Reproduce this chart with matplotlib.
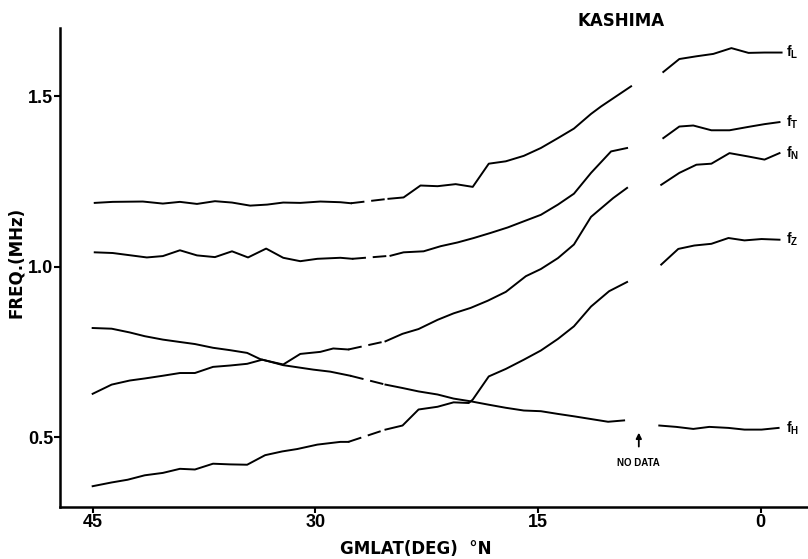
import matplotlib
matplotlib.use('Agg')
import matplotlib.pyplot as plt
import numpy as np

plt.rcParams['font.family'] = ['Liberation Sans', 'DejaVu Sans']
plt.rcParams['font.weight'] = 'bold'
plt.rcParams['mathtext.fontset'] = 'custom'
plt.rcParams['mathtext.rm'] = 'Liberation Sans'
plt.rcParams['mathtext.bf'] = 'Liberation Sans:bold'

# geomagnetic latitude (deg N) and frequency (MHz) along the pass
latL = [44.86, 43.65, 41.62, 40.27, 39.12, 37.97, 36.76, 35.61, 34.39, 33.24, 32.16, 31.01, 29.66, 28.31, 27.6,
        25.07, 24.05, 22.91, 21.76, 20.54, 19.39, 18.31, 17.16, 15.95, 14.80, 13.65, 12.57, 11.42, 10.74, 8.72,
        6.55, 5.47, 4.32, 3.18, 1.96, 0.81, -0.27, -1.42]
fL = [1.187, 1.190, 1.191, 1.185, 1.190, 1.184, 1.192, 1.188, 1.179, 1.182, 1.188, 1.187, 1.191, 1.189, 1.186,
      1.199, 1.203, 1.238, 1.236, 1.242, 1.234, 1.302, 1.309, 1.325, 1.348, 1.377, 1.405, 1.448, 1.470, 1.529,
      1.571, 1.609, 1.617, 1.624, 1.641, 1.627, 1.628, 1.628]

latT = [44.86, 43.65, 41.35, 40.27, 39.12, 37.97, 36.76, 35.61, 34.53, 33.31, 32.16, 31.01, 29.86, 28.31, 27.5,
        24.93, 24.05, 22.70, 21.55, 20.41, 19.32, 18.18, 17.03, 15.95, 14.80, 13.65, 12.57, 11.42, 10.07, 8.99,
        6.55, 5.47, 4.53, 3.31, 2.09, 0.81, -0.27, -1.28]
fT = [1.042, 1.040, 1.027, 1.031, 1.048, 1.033, 1.028, 1.045, 1.027, 1.053, 1.026, 1.016, 1.023, 1.026, 1.023,
      1.032, 1.042, 1.045, 1.060, 1.071, 1.084, 1.099, 1.115, 1.133, 1.152, 1.182, 1.214, 1.275, 1.338, 1.348,
      1.377, 1.411, 1.414, 1.400, 1.400, 1.410, 1.418, 1.424]

latN = [45.0, 43.72, 42.5, 41.49, 40.27, 39.12, 38.11, 36.89, 35.74, 34.59, 33.58, 32.16, 31.01, 29.66, 28.79, 27.77,
        25.27, 24.12, 23.04, 21.76, 20.68, 19.53, 18.38, 17.16, 15.81, 14.80, 13.65, 12.57, 11.42, 9.93, 8.99,
        6.69, 5.47, 4.32, 3.31, 2.09, 0.81, -0.27, -1.28]
fN = [0.627, 0.654, 0.666, 0.672, 0.680, 0.688, 0.688, 0.706, 0.710, 0.715, 0.727, 0.713, 0.744, 0.750, 0.760, 0.757,
      0.781, 0.803, 0.817, 0.844, 0.863, 0.879, 0.900, 0.926, 0.972, 0.993, 1.025, 1.065, 1.146, 1.201, 1.231,
      1.240, 1.275, 1.299, 1.302, 1.333, 1.323, 1.314, 1.333]

latZ = [45.0, 43.72, 42.64, 41.49, 40.27, 39.12, 38.11, 36.89, 35.74, 34.59, 33.38, 32.23, 31.22, 29.86, 28.31, 27.77,
        25.27, 24.12, 23.04, 21.76, 20.68, 19.66, 19.39, 18.31, 17.16, 15.95, 14.80, 13.65, 12.57, 11.42, 10.20, 8.99,
        6.69, 5.54, 4.46, 3.31, 2.16, 1.08, -0.07, -1.28]
fZ = [0.356, 0.367, 0.375, 0.388, 0.395, 0.407, 0.405, 0.422, 0.420, 0.419, 0.447, 0.458, 0.465, 0.478, 0.486, 0.486,
      0.522, 0.534, 0.581, 0.589, 0.602, 0.600, 0.610, 0.678, 0.700, 0.727, 0.754, 0.788, 0.825, 0.883, 0.928, 0.955,
      1.006, 1.052, 1.062, 1.067, 1.084, 1.077, 1.081, 1.079]

latH = [45.0, 43.72, 42.5, 41.49, 40.27, 39.12, 38.11, 36.89, 35.74, 34.59, 33.72, 32.16, 30.14, 28.99, 27.64,
        25.27, 24.12, 23.04, 21.76, 20.68, 19.53, 18.31, 17.16, 15.95, 14.80, 13.65, 12.57, 11.42, 10.27, 9.19,
        6.82, 5.68, 4.53, 3.45, 2.16, 1.08, -0.07, -1.22]
fH = [0.820, 0.818, 0.807, 0.796, 0.786, 0.779, 0.773, 0.762, 0.755, 0.747, 0.729, 0.711, 0.698, 0.692, 0.680,
      0.654, 0.644, 0.634, 0.625, 0.613, 0.605, 0.595, 0.586, 0.578, 0.576, 0.568, 0.561, 0.553, 0.545, 0.549,
      0.534, 0.530, 0.524, 0.530, 0.527, 0.522, 0.522, 0.527]

curves = [(latL, fL, r'$\mathbf{f_L}$'), (latT, fT, r'$\mathbf{f_T}$'), (latN, fN, r'$\mathbf{f_N}$'),
          (latZ, fZ, r'$\mathbf{f_Z}$'), (latH, fH, r'$\mathbf{f_H}$')]

fig = plt.figure(figsize=(8.08, 5.59), dpi=100)
ax = fig.add_axes([60 / 808, 52 / 559, 748 / 808, 479 / 559])

for lat, f, name in curves:
    lat = np.array(lat)
    f = np.array(f)
    north = lat > 26.5
    mid = (lat < 26.5) & (lat > 7.5)
    south = lat < 7.5
    ax.plot(lat[north], f[north], color='black', lw=1.4)
    # interpolated stretch drawn dashed
    ax.plot([lat[north][-1], lat[mid][0]], [f[north][-1], f[mid][0]], color='black', lw=1.4,
            linestyle=(0, (7, 3.5)))
    ax.plot(lat[mid], f[mid], color='black', lw=1.4)
    ax.plot(lat[south], f[south], color='black', lw=1.4)
    ax.text(-1.75, f[-1], name, fontsize=10, ha='left', va='center')

ax.annotate('NO DATA', xy=(8.2, 0.513), xytext=(8.2, 0.425), fontsize=7, fontweight='bold',
            ha='center', va='center',
            arrowprops=dict(arrowstyle='-|>', color='black', lw=1.3, shrinkA=6, shrinkB=0,
                            mutation_scale=8))

ax.text(9.4, 1.72, 'KASHIMA', fontsize=12, fontweight='bold', ha='center', va='center',
        family='DejaVu Sans', clip_on=False)

ax.set_xlim(47.2, -3.2)
ax.set_ylim(0.295, 1.70)
ax.set_xticks([45, 30, 15, 0])
ax.set_yticks([0.5, 1.0, 1.5])
ax.set_yticklabels(['0.5', '1.0', '1.5'])
ax.tick_params(labelsize=13, length=4, width=1.5, direction='out', pad=1)
for lab in ax.get_xticklabels() + ax.get_yticklabels():
    lab.set_fontweight('bold')

ax.spines['top'].set_visible(False)
ax.spines['right'].set_visible(False)
ax.spines['left'].set_linewidth(1.8)
ax.spines['bottom'].set_linewidth(1.8)

ax.set_xlabel('GMLAT(DEG)  \u00b0N', fontsize=12, fontweight='bold', family='DejaVu Sans')
ax.xaxis.set_label_coords(356 / 748, -0.068)
ax.set_ylabel('FREQ.(MHz)', fontsize=12, fontweight='bold', family='DejaVu Sans')
ax.yaxis.set_label_coords(-0.047, 0.51)

fig.savefig('out.png', dpi=100)
